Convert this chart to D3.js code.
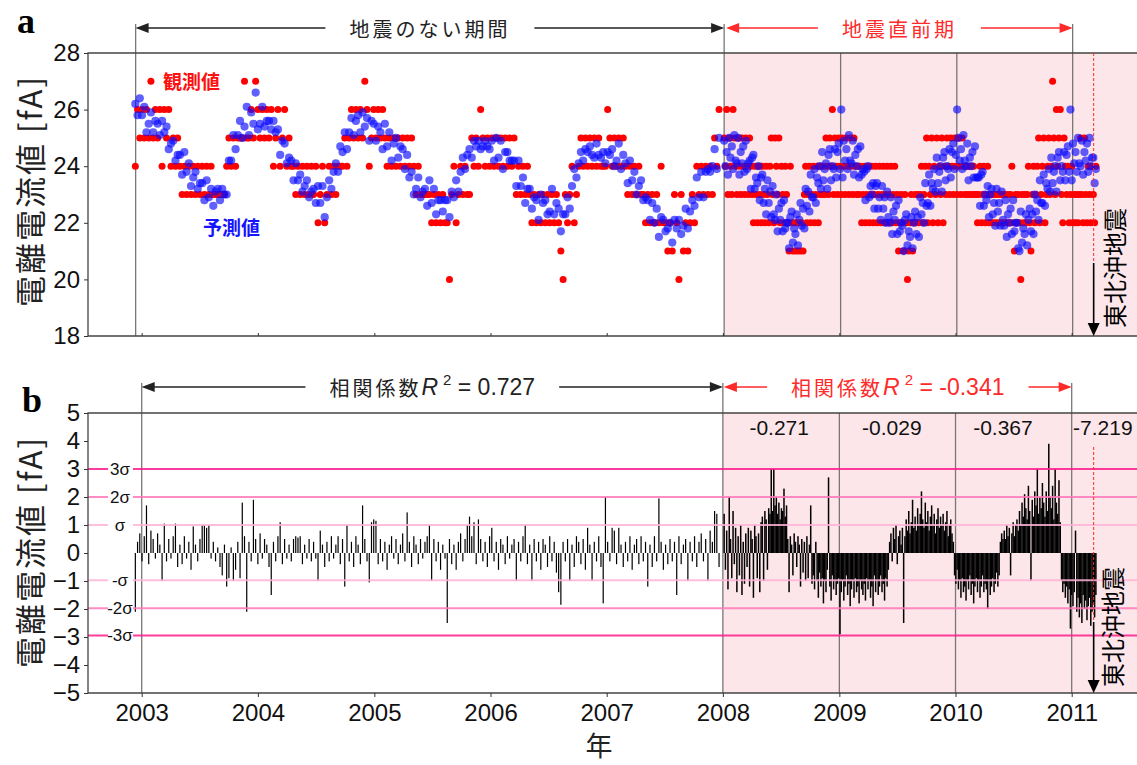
<!DOCTYPE html>
<html>
<head>
<meta charset="utf-8">
<script src="https://cdn.jsdelivr.net/npm/d3@7"></script>
<style>
  body { margin: 0; background: #fff; }
  svg { display: block; font-family: "Liberation Sans", Arial, sans-serif; }
</style>
</head>
<body>
<div id="chart"></div>
<script>
// weekly samples before 2008, every 4 days after
const earlyStart = "2002-12-12", earlyStep = 7
const lateStart = "2008-01-05", lateStep = 4

const obsEarly = [
  24,26,25,26,25,26,25,27,25,26, 25,26,24,26,25,26,24,25,24,25,
  24,23,24,23,24,23,24,23,24,23, 24,23,24,23,24,23,23,23,23,23,
  23,24,25,24,25,24,25,25,25,27, 25,25,26,25,27,26,25,26,25,26,
  25,26,24,25,26,24,25,26,24,25, 24,24,23,24,23,24,23,24,23,24,
  23,24,22,23,24,22,23,24,23,24, 23,24,24,24,25,24,25,26,25,26,
  25,26,25,27,26,24,25,26,25,26, 25,26,25,24,25,24,25,24,25,24,
  25,24,25,24,25,24,23,24,23,23, 23,23,23,22,23,22,23,22,23,22,
  22,20,23,24,22,23,24,23,24,23, 23,25,24,25,24,26,25,24,25,24,
  25,24,25,24,25,24,25,24,25,24, 25,23,24,23,24,23,24,23,22,23,
  22,23,22,23,22,23,22,23,22,23, 22,21,20,23,22,23,24,22,23,24,
  25,24,25,24,25,24,25,24,25,24, 24,24,26,25,24,25,24,25,24,25,
  24,23,24,23,24,23,24,23,23,22, 23,22,23,22,23,22,24,22,22,21,
  22,21,23,22,20,23,21,22,21,22, 23,22,24,23,24,23,24,23,24,23,
  25,24,26
]
const predEarly = [
  26.2,25.8,26.4,25.8,26.1,25.2,25.5,25.9,25.2,25.6, 25.5,25.1,25.6,25.2,25.4,24.6,24.8,24.9,24.2,24.4,
  24.4,23.7,24.5,23.8,24.1,23.3,23.6,23.8,23.2,23.4, 23.4,22.8,23.5,22.9,23.2,22.6,23.1,23.2,22.8,23.2,
  23.0,23.0,24.2,24.2,25.1,24.6,25.1,25.6,25.0,25.4, 26.1,25.1,25.9,25.5,26.6,25.3,25.5,26.1,25.4,25.6,
  25.6,25.3,25.6,25.2,25.3,24.4,24.9,24.8,24.1,24.3, 24.2,23.5,24.1,23.5,23.7,23.1,23.3,23.5,22.9,23.1,
  23.2,22.7,23.3,22.7,23.3,22.2,22.9,23.5,23.2,23.8, 24.1,23.8,24.7,24.5,25.2,24.6,25.2,25.7,25.1,25.6,
  25.8,25.2,25.9,25.4,25.7,24.9,25.6,25.5,24.9,25.4, 25.2,24.6,25.5,24.7,25.2,24.2,24.8,25.0,24.3,24.7,
  24.6,23.9,24.4,23.6,23.8,23.0,23.2,23.6,22.9,23.1, 23.2,22.6,23.5,22.7,23.2,22.3,22.8,22.8,22.4,22.8,
  22.8,22.2,23.1,22.9,23.5,23.1,23.8,24.3,23.9,24.4, 24.6,24.3,24.9,24.7,24.9,24.6,24.7,24.9,24.7,24.6,
  24.9,24.2,25.0,24.3,24.9,23.9,24.5,24.5,24.2,24.2, 24.2,23.3,24.2,23.3,23.6,22.7,23.2,23.2,22.5,22.9,
  22.8,22.1,23.0,22.7,22.8,22.3,22.4,23.2,22.3,22.7, 22.5,21.7,22.3,22.3,22.9,22.5,23.3,23.9,23.6,24.1,
  24.5,24.2,24.6,24.5,24.7,24.4,24.3,24.8,24.4,24.3, 24.5,24.1,24.5,24.4,24.6,24.0,24.2,24.8,23.9,24.4,
  24.1,23.4,24.2,23.5,23.8,23.0,23.3,23.5,22.8,22.9, 22.8,22.1,22.7,22.0,22.5,21.5,22.2,22.1,21.7,21.8,
  22.0,21.3,22.1,21.8,22.1,21.6,21.9,22.5,21.8,22.4, 22.8,22.6,23.6,22.9,23.8,22.9,23.8,23.9,23.8,24.0,
  24.6,23.9,25.0
]
const residEarly = [
  -2.1,0.4,0.7,-0.3,0.6,1.7,-0.4,0.8,0.5,-0.2, 0.7,0.3,-1.0,1.05,-0.3,0.5,-0.2,0.6,1.05,-0.5,
  0.3,-0.4,0.6,-0.2,0.4,-0.6,0.95,0.3,-0.3,0.5, 1.0,1.0,0.9,1.0,-0.2,0.4,-0.3,0.2,-0.5,-0.8,
  0.3,-1.2,-0.9,0.2,-1.0,-0.6,0.4,-0.9,1.8,0.6, -2.1,0.4,-0.3,1.9,0.5,-0.4,0.7,-0.2,0.5,0.3,
  -0.5,-1.5,0.4,-0.3,0.6,1.1,-0.4,0.5,-0.2,0.3, -0.3,0.5,0.6,0.55,0.6,-0.4,0.3,-0.2,0.5,-0.3,
  0.4,-0.2,-1.0,0.8,0.3,-0.5,0.4,-0.3,0.6,-0.2, 0.3,0.6,-0.4,0.5,-1.2,1.0,-0.3,0.4,-0.5,0.6,
  0.3,-0.4,1.7,0.5,-0.3,-1.05,1.1,1.2,1.15,-0.4, 0.5,-0.3,0.4,-0.6,0.3,0.6,-0.2,0.5,-0.4,0.3,
  0.7,-0.3,1.45,0.4,-0.5,0.6,0.3,-0.4,0.5,-0.2, 0.4,0.6,1.0,-1.0,0.5,-0.3,0.4,-0.6,0.3,-0.2,
  -2.5,0.5,-0.4,0.3,-0.6,0.4,0.7,-0.3,0.5,1.0, 1.3,0.6,1.1,-0.4,1.2,0.5,-0.3,0.4,-0.5,0.6,
  0.9,-0.3,0.4,-0.6,0.5,0.3,-0.4,0.6,-0.2,0.3, 0.5,-1.0,0.4,-0.3,0.6,1.0,-0.4,0.3,-1.0,0.5,
  -0.3,0.4,-0.6,0.5,0.3,-0.5,0.6,-0.3,0.4,-0.7, -1.4,-1.85,0.4,-0.3,0.5,-1.0,0.3,-0.5,0.6,0.4,
  -0.4,0.5,-0.6,0.9,0.3,-1.0,0.4,-0.3,0.6,-0.5, -1.8,2.0,0.4,-0.3,0.9,0.8,-0.4,0.9,0.3,-0.5,
  0.4,-0.3,0.6,-0.6,0.3,0.5,-0.4,0.6,-0.3,0.4, -1.2,0.3,-0.5,0.6,-0.3,1.95,0.4,-0.6,0.3,-0.4,
  0.5,-0.3,0.4,-1.5,0.6,-0.4,0.3,0.5,-1.0,0.4, -0.3,0.6,-0.5,0.4,0.7,-0.3,0.5,-1.0,0.8,0.4,
  1.5,1.4,-0.5
]

const obsLate = [
  25,24,26,23,25,24,23,26,25,24, 23,25,24,23,25,24,23,25,24,23,
  25,24,23,22,24,23,22,24,23,22, 24,23,22,24,23,22,24,25,23,22,
  25,24,23,25,22,24,23,22,24,23, 22,21,24,22,21,22,21,22,21,22,
  21,22,21,23,24,22,23,24,22,23, 24,22,23,24,22,23,24,23,24,23,
  25,24,23,25,24,26,23,25,24,23, 25,24,23,25,24,23,25,24,23,25,
  24,23,25,24,23,24,23,24,22,23, 24,22,23,24,22,23,24,22,23,24,
  22,23,24,22,23,24,22,23,24,22, 23,24,22,23,24,22,23,21,22,23,
  22,21,23,22,20,21,22,23,21,22, 23,22,23,22,23,24,22,23,24,25,
  22,24,23,25,22,24,23,25,22,24, 23,25,22,24,23,25,24,23,25,24,
  23,25,24,23,25,24,23,25,24,23, 24,23,24,23,24,23,24,23,23,22,
  23,24,22,23,24,22,23,24,22,23, 22,23,22,23,22,23,22,23,22,23,
  22,23,22,23,22,23,24,22,21,23, 22,23,22,20,23,22,23,22,23,24,
  22,21,23,24,22,23,24,25,22,23, 24,25,22,23,24,25,23,24,27,25,
  23,26,24,25,26,23,22,25,24,23, 24,22,23,24,22,23,22,23,22,23,
  25,23,22,25,23,22,24,23,22,24, 23,22,24
]
const predLate = [
  24.9,24.0,24.5,23.7,25.0,24.3,24.7,23.9,25.1,24.2, 24.1,25.0,23.7,24.5,24.1,24.7,23.8,24.9,23.9,24.1,
  24.2,23.2,24.3,24.4,23.2,23.6,23.4,24.0,22.8,23.6, 23.7,22.7,23.2,22.3,23.5,22.7,23.1,22.2,23.3,22.3,
  22.1,23.0,21.7,22.5,22.1,22.7,21.7,22.8,21.8,22.0, 22.0,21.1,22.2,22.4,21.3,21.8,21.6,22.3,21.2,22.1,
  22.7,21.9,22.5,21.8,23.2,22.6,23.1,22.4,23.7,22.9, 22.9,23.9,22.7,23.6,23.4,24.0,23.2,24.5,23.5,23.9,
  24.1,23.2,24.4,24.6,23.5,24.0,23.9,24.6,23.6,24.5, 24.8,23.9,26.0,23.6,24.9,24.2,24.6,23.9,25.1,24.2,
  24.1,24.9,23.7,24.4,24.0,24.6,23.6,24.7,23.7,23.9, 23.8,22.8,23.9,24.0,22.9,23.3,23.0,23.4,22.5,23.3,
  23.4,22.5,22.9,22.1,23.3,22.5,22.9,22.0,23.1,22.2, 22.0,22.9,21.6,22.4,22.1,22.6,21.6,22.8,21.7,22.0,
  21.9,21.0,22.1,22.3,21.2,21.7,21.5,22.2,21.1,22.0, 22.4,21.6,22.2,21.5,22.9,22.3,22.7,22.0,23.4,22.6,
  22.7,23.7,22.6,23.4,23.2,23.9,23.1,24.3,23.4,23.8, 24.0,23.1,24.3,24.5,23.5,24.0,23.9,24.6,23.6,24.5,
  24.8,23.9,24.4,26.0,25.0,24.2,24.6,23.9,25.1,24.2, 24.0,24.8,23.5,24.3,24.0,24.5,23.6,24.7,23.6,23.6,
  23.6,22.6,23.7,23.8,22.6,23.0,22.8,23.3,22.2,23.0, 23.2,22.3,22.7,21.9,23.2,22.4,22.7,21.9,23.1,22.1,
  21.9,22.8,21.5,22.3,22.0,22.5,21.6,22.8,21.7,22.0, 22.0,21.1,21.0,22.4,21.3,21.8,21.6,22.3,21.2,22.1,
  22.5,21.7,22.3,21.6,23.0,22.4,22.8,22.1,23.5,22.7, 22.7,23.7,22.6,23.4,23.2,23.9,23.1,24.3,23.4,23.8,
  24.0,23.1,24.3,24.5,23.5,24.0,23.8,24.5,23.5,24.4, 24.7,23.8,26.0,23.5,24.8,24.1,24.5,23.8,25.0,24.1,
  24.0,24.9,23.7,24.5,24.2,24.8,23.8,25.0,24.0,24.3, 24.3,23.4,23.9
]
const residLate = [
  1.4,-0.6,0.8,-1.3,2.0,0.5,-0.9,1.5,-0.4,0.9, -1.4,0.6,-0.8,1.0,-1.5,0.4,-1.1,0.7,-0.5,0.9,
  -1.2,0.8,0.5,-1.6,1.0,0.6,-0.9,0.7,-1.4,1.1, 1.3,-1.0,1.5,1.2,-0.6,1.6,1.4,3.0,1.5,3.0,
  1.7,2.0,1.4,1.8,1.2,1.6,1.5,2.3,1.3,1.7, 0.5,-1.4,0.6,0.3,-0.8,0.7,0.4,-0.5,0.6,0.3,
  -1.2,0.5,-0.7,0.4,-1.0,0.6,-0.9,0.3,1.7,-1.1, -0.8,-1.3,0.4,-1.0,-1.6,-0.7,-1.2,-0.9,-1.8,-1.0,
  -1.4,-0.6,2.7,-1.2,-1.7,-0.8,-1.3,-1.0,-1.5,-1.1, -0.9,-2.9,-1.4,-1.0,-1.7,-1.2,-0.8,-1.5,-1.1,-1.9,
  -1.3,-1.0,-1.6,-0.9,-1.4,-1.2,-1.8,-1.0,-1.3,-1.5, -1.1,-1.7,-0.9,-1.3,-1.0,-1.6,-1.2,-1.9,-0.8,-1.4,
  -1.0,-1.5,-1.2,-0.8,-1.4,-1.1,-1.7,-0.9,-1.2,-0.6, 0.4,0.7,-0.3,0.9,0.5,1.0,-0.4,0.6,0.8,0.3,
  0.9,-2.5,0.6,1.2,0.8,1.5,0.7,1.1,1.9,0.9, 1.3,0.8,1.6,1.0,1.4,2.2,1.2,0.9,1.8,1.1,
  1.5,0.8,1.3,1.7,1.0,1.4,0.7,1.2,1.6,0.9, 1.3,1.0,1.4,0.8,1.1,1.5,0.6,1.0,1.2,0.7,
  0.4,-0.8,-1.1,-0.6,-1.3,-1.0,-1.6,-0.9,-1.4,-1.2, -1.7,-1.0,-1.3,-0.8,-1.5,-1.1,-1.8,-1.2,-0.9,-1.4,
  -1.0,-1.6,-1.2,-0.8,-1.4,-1.1,-1.3,-2.0,-1.0,-1.5, -1.2,-0.9,-1.4,-1.1,-0.7,-1.2,-0.8,0.4,0.7,0.5,
  0.8,0.5,1.0,0.6,0.9,-0.8,0.7,1.1,0.6,1.0, 1.2,0.8,1.5,1.0,1.8,1.3,2.1,1.6,1.2,2.4,
  1.5,-1.0,1.9,1.3,2.2,1.7,3.0,1.4,2.0,1.6, 2.5,1.8,1.3,2.2,1.5,3.9,2.0,1.6,2.4,1.2,
  3.0,1.8,1.4,2.6,1.1,-1.0,-1.4,-1.1,-1.6,-1.2, -1.8,-1.3,-2.7,-1.5,-1.9,-1.4,0.8,-2.1,-1.6,-2.3,
  -1.8,-2.5,-1.5,-2.0,-1.7,-2.4,-1.9,-1.6,-2.6,-2.1, -1.8,-2.3,-1.5
]

const years = [2003, 2004, 2005, 2006, 2007, 2008, 2009, 2010, 2011]
const topTicks = [18, 20, 22, 24, 26, 28]
const bottomTicks = [-5, -4, -3, -2, -1, 0, 1, 2, 3, 4, 5]
const topLines = ["2002-12-13", "2008-01-05", "2009-01-05", "2010-01-05", "2011-01-04"]
const bottomLines = ["2003-01-01", "2008-01-01", "2009-01-01", "2010-01-01", "2011-01-01"]
const quakeDate = "2011-03-11"
const sigmaLevels = [3, 2, 1, -0.97, -1.97, -2.95]
const sigmaLabels = ["3σ", "2σ", "σ", "-σ", "-2σ", "-3σ"]
const sigmaColors = ["#ff1a8c", "#ff77b8", "#ffb3d6", "#ffb3d6", "#ff77b8", "#ff1a8c"]
const yearR2 = ["-0.271", "-0.029", "-0.367", "-7.219"]
const yearR2Dates = ["2008-06-26", "2009-06-15", "2010-05-30", "2011-04-09"]

const jp = '"Noto Sans CJK JP", sans-serif'
const latin = '"Liberation Sans", Arial, sans-serif'
const pink = "#fde6ea"
const red = "#ff2a2a"

const width = 1137, height = 765
const left = 88, right = width + 5
const parse = d3.utcParse("%Y-%m-%d")

const svg = d3.select("#chart").append("svg")
  .attr("width", width)
  .attr("height", height)

const x = d3.scaleUtc()
  .domain([parse("2003-01-01"), parse("2011-01-01")])
  .range([141.7, 1071.7])
const yTop = d3.scaleLinear().domain([18, 28]).range([336, 53])
const yBot = d3.scaleLinear().domain([-5, 5]).range([693, 413])

function series(start, step, values) {
  const t0 = parse(start)
  // bars get a bit wider where the samples sit closer together
  const w = step < 7 ? 1.5 : 1.2
  return values.map((v, i) => ({ date: d3.utcDay.offset(t0, i * step), value: v, w: w }))
}

const obs = series(earlyStart, earlyStep, obsEarly).concat(series(lateStart, lateStep, obsLate))
const pred = series(earlyStart, earlyStep, predEarly).concat(series(lateStart, lateStep, predLate))
const resid = series(earlyStart, earlyStep, residEarly).concat(series(lateStart, lateStep, residLate))

function head(g, tx, ty, dir, color) {
  const L = 13, W = 5
  let pts
  if (dir === "left") pts = [[tx, ty], [tx + L, ty - W], [tx + L, ty + W]]
  else if (dir === "right") pts = [[tx, ty], [tx - L, ty - W], [tx - L, ty + W]]
  else pts = [[tx, ty], [tx - 6, ty - L], [tx + 6, ty - L]]
  g.append("polygon").attr("points", pts.map(p => p.join(",")).join(" ")).attr("fill", color)
}

// label in the middle, arrows out to both period edges
function spanArrow(g, x1, x2, yy, color, build) {
  const t = g.append("text")
    .attr("x", (x1 + x2) / 2)
    .attr("y", yy)
    .attr("text-anchor", "middle")
    .attr("dominant-baseline", "central")
    .attr("fill", color)
  build(t)
  const box = t.node().getBBox()
  const gap = 24
  g.append("line").attr("x1", x1 + 2).attr("x2", box.x - gap).attr("y1", yy).attr("y2", yy)
    .attr("stroke", color).attr("stroke-width", 1.6)
  g.append("line").attr("x1", box.x + box.width + gap).attr("x2", x2 - 2).attr("y1", yy).attr("y2", yy)
    .attr("stroke", color).attr("stroke-width", 1.6)
  head(g, x1, yy, "left", color)
  head(g, x2, yy, "right", color)
}

function jpText(t, s, size) {
  t.append("tspan").attr("font-family", jp).attr("font-size", size).attr("letter-spacing", 3).text(s)
}

function r2Text(value) {
  return t => {
    jpText(t, "相関係数", 20)
    t.append("tspan").attr("font-family", latin).attr("font-style", "italic").attr("font-size", 23).text("R")
    t.append("tspan").attr("font-family", latin).attr("font-size", 15).attr("dx", 5).attr("dy", -8).text("2")
    t.append("tspan").attr("font-family", latin).attr("font-size", 23).attr("dy", 8).text(" = " + value)
  }
}

function quakeMark(g, y0, yMid, y1, cx, cy) {
  const xq = x(parse(quakeDate))
  g.append("line").attr("x1", xq).attr("x2", xq).attr("y1", y0).attr("y2", yMid)
    .attr("stroke", red).attr("stroke-width", 1).attr("stroke-dasharray", "3,2")
  g.append("line").attr("x1", xq).attr("x2", xq).attr("y1", yMid).attr("y2", y1 - 12)
    .attr("stroke", "#000").attr("stroke-width", 1.6)
  head(g, xq, y1, "down", "#000")
  g.append("text")
    .attr("transform", `translate(${cx},${cy}) rotate(-90)`)
    .attr("text-anchor", "middle")
    .attr("dominant-baseline", "central")
    .attr("font-family", jp)
    .attr("font-size", 24)
    .attr("fill", "#000")
    .text("東北沖地震")
}

function yTitle(g, cy) {
  g.append("text")
    .attr("transform", `translate(28,${cy}) rotate(-90)`)
    .attr("text-anchor", "middle")
    .attr("dominant-baseline", "central")
    .attr("font-family", jp)
    .attr("font-size", 31)
    .attr("letter-spacing", 2)
    .attr("fill", "#222")
    .text("電離電流値 [fA]")
}

function styleAxis(g) {
  g.attr("font-family", latin).attr("font-size", 24)
  g.select(".domain").remove()
  g.selectAll("line").attr("stroke", "#333")
  g.selectAll("text").attr("fill", "#111")
}

// ---------- panel a ----------
const a = svg.append("g")

a.append("rect")
  .attr("x", x(parse(topLines[1])))
  .attr("y", yTop(28))
  .attr("width", right - x(parse(topLines[1])))
  .attr("height", yTop(18) - yTop(28))
  .attr("fill", pink)

a.append("g").selectAll("line")
  .data(topLines)
  .enter().append("line")
    .attr("x1", d => x(parse(d)))
    .attr("x2", d => x(parse(d)))
    .attr("y1", (d, i) => (i === 0 || i === 1 || i === topLines.length - 1) ? 24 : yTop(28))
    .attr("y2", yTop(18))
    .attr("stroke", "#777")
    .attr("stroke-width", 1.3)

a.append("g").selectAll("circle")
  .data(obs)
  .enter().append("circle")
    .attr("cx", d => x(d.date))
    .attr("cy", d => yTop(d.value))
    .attr("r", 3.5)
    .attr("fill", "#ff0000")

a.append("g").selectAll("circle")
  .data(pred)
  .enter().append("circle")
    .attr("cx", d => x(d.date))
    .attr("cy", d => yTop(d.value))
    .attr("r", 4.1)
    .attr("fill", "#0a0aff")
    .attr("fill-opacity", 0.65)

a.append("path")
  .attr("d", `M${right},${yTop(28)}H${left}V${yTop(18)}H${right}`)
  .attr("fill", "none")
  .attr("stroke", "#444")
  .attr("stroke-width", 1.3)

a.append("g")
  .attr("transform", `translate(${left},0)`)
  .call(d3.axisLeft(yTop).tickValues(topTicks).tickSize(4).tickPadding(4))
  .call(styleAxis)

a.append("g")
  .attr("transform", `translate(0,${yTop(18)})`)
  .call(d3.axisBottom(x).tickValues(years.map(yr => parse(yr + "-01-01"))).tickSize(-3).tickFormat(""))
  .call(styleAxis)

yTitle(a, 191)

spanArrow(a, x(parse(topLines[0])), x(parse(topLines[1])), 28, "#222", t => jpText(t, "地震のない期間", 20))
spanArrow(a, x(parse(topLines[1])) + 2, x(parse(topLines[4])), 28, red, t => jpText(t, "地震直前期", 20))

a.append("text").attr("x", 163).attr("y", 80).attr("dominant-baseline", "central")
  .attr("font-family", jp).attr("font-size", 19).attr("font-weight", "bold").attr("fill", "#ff1010")
  .text("観測値")
a.append("text").attr("x", 203).attr("y", 226).attr("dominant-baseline", "central")
  .attr("font-family", jp).attr("font-size", 19).attr("font-weight", "bold").attr("fill", "#1414ff")
  .text("予測値")

quakeMark(a, yTop(28), 263, yTop(18), 1113, 268)

a.append("text").attr("x", 17).attr("y", 33)
  .attr("font-family", '"Liberation Serif", "Times New Roman", serif')
  .attr("font-weight", "bold").attr("font-size", 36).attr("fill", "#000")
  .text("a")

// ---------- panel b ----------
const b = svg.append("g")

b.append("rect")
  .attr("x", x(parse(bottomLines[1])))
  .attr("y", yBot(5))
  .attr("width", right - x(parse(bottomLines[1])))
  .attr("height", yBot(-5) - yBot(5))
  .attr("fill", pink)

b.append("g").selectAll("line")
  .data(bottomLines)
  .enter().append("line")
    .attr("x1", d => x(parse(d)))
    .attr("x2", d => x(parse(d)))
    .attr("y1", (d, i) => (i === 0 || i === 1 || i === bottomLines.length - 1) ? 383 : yBot(5))
    .attr("y2", yBot(-5))
    .attr("stroke", "#777")
    .attr("stroke-width", 1.3)

b.append("g").selectAll("rect")
  .data(resid)
  .enter().append("rect")
    .attr("x", d => x(d.date) - d.w / 2)
    .attr("width", d => d.w)
    .attr("y", d => Math.min(yBot(0), yBot(d.value)))
    .attr("height", d => Math.abs(yBot(d.value) - yBot(0)))
    .attr("fill", "#000")

b.append("g").selectAll("line")
  .data(sigmaLevels)
  .enter().append("line")
    .attr("x1", left)
    .attr("x2", right)
    .attr("y1", d => yBot(d))
    .attr("y2", d => yBot(d))
    .attr("stroke", (d, i) => sigmaColors[i])
    .attr("stroke-width", 2)
    .attr("stroke-opacity", 0.85)

const sl = b.append("g").selectAll("g")
  .data(sigmaLevels)
  .enter().append("g")
sl.append("rect")
  .attr("x", 108).attr("width", 25)
  .attr("y", d => yBot(d) - 8).attr("height", 16)
  .attr("fill", "#fff")
sl.append("text")
  .attr("x", 120)
  .attr("y", d => yBot(d))
  .attr("text-anchor", "middle")
  .attr("dominant-baseline", "central")
  .attr("font-size", 17)
  .attr("fill", "#111")
  .text((d, i) => sigmaLabels[i])

b.append("path")
  .attr("d", `M${right},${yBot(5)}H${left}V${yBot(-5)}H${right}`)
  .attr("fill", "none")
  .attr("stroke", "#444")
  .attr("stroke-width", 1.3)

b.append("g")
  .attr("transform", `translate(${left},0)`)
  .call(d3.axisLeft(yBot).tickValues(bottomTicks).tickSize(4).tickPadding(4))
  .call(styleAxis)

b.append("g")
  .attr("transform", `translate(0,${yBot(-5)})`)
  .call(d3.axisBottom(x).tickValues(years.map(yr => parse(yr + "-01-01"))).tickSize(4).tickPadding(7)
    .tickFormat(d3.utcFormat("%Y")))
  .call(styleAxis)

yTitle(b, 552)

b.append("text")
  .attr("x", 599).attr("y", 744)
  .attr("text-anchor", "middle").attr("dominant-baseline", "central")
  .attr("font-family", jp).attr("font-size", 27).attr("fill", "#222")
  .text("年")

spanArrow(b, x(parse(bottomLines[0])), x(parse(bottomLines[1])), 387, "#222", r2Text("0.727"))
spanArrow(b, x(parse(bottomLines[1])) + 1, x(parse(bottomLines[4])), 387, red, r2Text("-0.341"))

b.append("g").selectAll("text")
  .data(yearR2)
  .enter().append("text")
    .attr("x", (d, i) => x(parse(yearR2Dates[i])))
    .attr("y", 427)
    .attr("text-anchor", "middle")
    .attr("dominant-baseline", "central")
    .attr("font-size", 21)
    .attr("fill", "#111")
    .text(d => d)

quakeMark(b, 447, 622, yBot(-5), 1111, 627)

b.append("text").attr("x", 22).attr("y", 412)
  .attr("font-family", '"Liberation Serif", "Times New Roman", serif')
  .attr("font-weight", "bold").attr("font-size", 36).attr("fill", "#000")
  .text("b")
</script>
</body>
</html>
